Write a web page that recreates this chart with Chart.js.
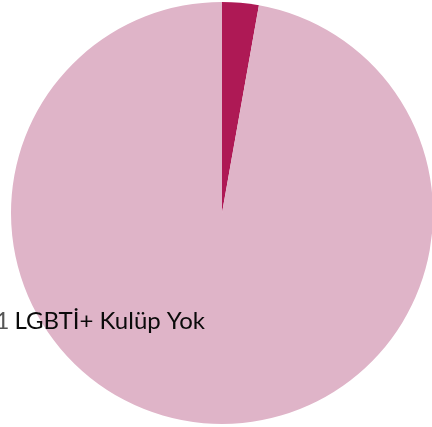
<!DOCTYPE html>
<html><head><meta charset="utf-8">
<script src="https://cdn.jsdelivr.net/npm/chart.js@4"></script>
<style>html,body{margin:0;padding:0;overflow:hidden;background:#fff;width:432px;height:427px}canvas{display:block}</style>
</head><body>
<canvas id="c" width="440" height="427"></canvas>
<script>
const categories = ["LGBTİ+ Kulüp Var", "LGBTİ+ Kulüp Yok"];
const values = [2.8, 97.2];
const valueLabels = ["%2,9", "%97,1"];
const colors = ["#ae1955", "#dfb4c8"];

const labelPlugin = {
  id: 'sliceLabel',
  afterDraw(chart) {
    const ctx = chart.ctx;
    ctx.save();
    ctx.font = '24px Lato';
    ctx.textBaseline = 'alphabetic';
    ctx.textAlign = 'right';
    const name = categories[1];
    const right = 205, y = 329;
    ctx.fillStyle = '#0a0a0a';
    ctx.fillText(name, right, y);
    const w = ctx.measureText(name).width + 5;
    ctx.fillStyle = '#555';
    ctx.fillText(valueLabels[1], right - w, y);
    ctx.restore();
  }
};

new Chart(document.getElementById('c'), {
  type: 'pie',
  data: { labels: categories, datasets: [{ data: values, backgroundColor: colors, borderWidth: 0 }] },
  options: {
    responsive: false, animation: false,
    layout: { padding: { left: 11, right: 7, top: 2, bottom: 3 } },
    plugins: { legend: { display: false }, tooltip: { enabled: false } }
  },
  plugins: [labelPlugin]
});
</script>
</body></html>
